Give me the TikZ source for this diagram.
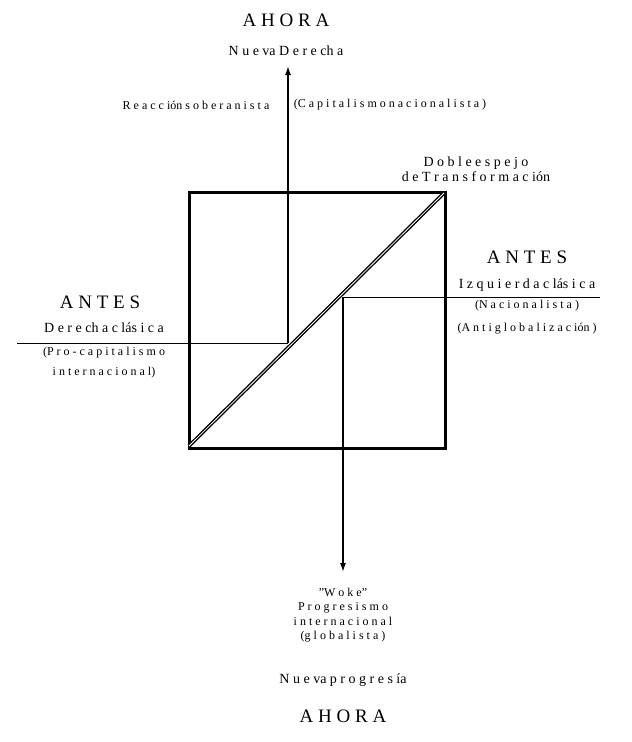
\documentclass[tikz,border=0pt]{standalone}
\usepackage{fontspec}
\setmainfont{Liberation Serif}
\usetikzlibrary{arrows.meta}
\begin{document}
\begin{tikzpicture}[x=1pt,y=-1pt,
  big/.style={font=\fontsize{19}{21}\selectfont,inner sep=0},
  mid/.style={font=\fontsize{14}{16}\selectfont,inner sep=0},
  sm/.style={font=\fontsize{12}{20}\selectfont,inner sep=0,align=center},
  ln/.style={line width=1pt},
  arr/.style={line width=1.5pt,-{Latex[length=9pt,width=6pt]}}]
\useasboundingbox (0,0) rectangle (632,742);
\draw[line width=3pt] (189,192) rectangle (445,448);
\coordinate (bl) at (189,446);
\coordinate (tr) at (444,193);
\draw[line width=3.6pt] (bl) -- (tr);
\draw[white,line width=0.8pt] (bl) -- (tr);
\coordinate (l0) at (17,343);
\coordinate (l1) at (288,343);
\coordinate (lt) at (288,66);
\coordinate (r0) at (600,297);
\coordinate (r1) at (343,297);
\coordinate (rb) at (343,572);
\draw[ln] (l0) -- (l1);
\draw[arr] (l1) -- (lt);
\draw[ln] (r0) -- (r1);
\draw[arr] (r1) -- (rb);
\node[big] (a1) at (286,20) {A H O R A};
\node[mid] (nd) at (286,51) {N u e va  D e r e ch a};
\node[sm] (rs) at (196,105) {R e a c c ión  s o b e r a n i s t a};
\node[sm] (cn) at (390,105) {(C a p i t a l i s m o  n a c i o n a l i s t a )};
\node[mid,align=center] (de) at (476,169) {D o b l e  e s p e j o\\[-1pt] d e  T r a n s f o r m a c ión};
\node[big] (a2) at (527,257) {A N T E S};
\node[mid] (ic) at (527,285) {I z q u i e r d a  c lás i c a};
\node[sm] (na) at (527,306) {(N a c i o n a l i s t a )};
\node[sm] (ag) at (527,329) {(A n t i g l o b a l i z a c ión )};
\node[big] (a3) at (100,302) {A N T E S};
\node[mid] (dc) at (104,328) {D e r e ch a  c lás i c a};
\node[sm] (pc) at (104,363) {(P r o - c a p i t a l i s m o\\ i n t e r n a c i o n a l)};
\node[sm,font=\fontsize{12}{14.5}\selectfont] (wk) at (343,615) {"W o k e"\\ P r o g r e s i s m o\\ i n t e r n a c i o n a l\\ (g l o b a l i s t a )};
\node[mid] (np) at (343,680) {N u e va  p r o g r e s ía};
\node[big] (a4) at (343,716) {A H O R A};
\end{tikzpicture}
\end{document}
